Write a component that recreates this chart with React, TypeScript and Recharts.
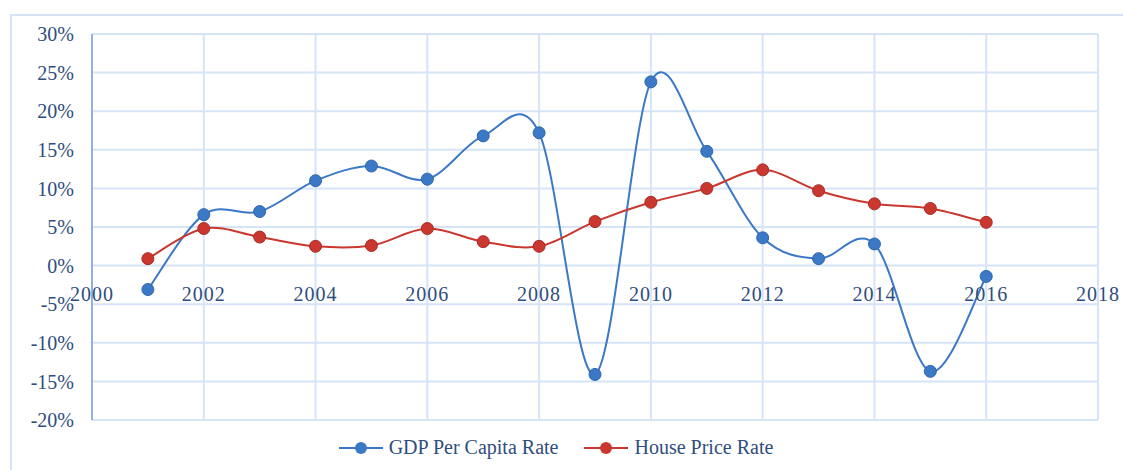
import { LineChart, Line, XAxis, YAxis, CartesianGrid, Legend } from 'recharts';

const years = [2001, 2002, 2003, 2004, 2005, 2006, 2007, 2008, 2009, 2010, 2011, 2012, 2013, 2014, 2015, 2016];
const gdpRate = [-3.1, 6.6, 7.0, 11.0, 12.9, 11.2, 16.8, 17.2, -14.1, 23.8, 14.8, 3.6, 0.9, 2.8, -13.7, -1.4];
const houseRate = [0.9, 4.8, 3.7, 2.5, 2.6, 4.8, 3.1, 2.5, 5.7, 8.2, 10.0, 12.4, 9.7, 8.0, 7.4, 5.6];
const xTicks = [2000, 2002, 2004, 2006, 2008, 2010, 2012, 2014, 2016, 2018];
const yTicks = [-20, -15, -10, -5, 0, 5, 10, 15, 20, 25, 30];

const data = years.map((year, i) => ({ year, gdp: gdpRate[i], house: houseRate[i] }));

const FONT = '"Liberation Serif", "Times New Roman", serif';
const TEXT = '#2f4d7e';
const GRID = '#d6e4f7';
const BLUE = '#3b78c6';
const RED = '#c9372f';

// Excel-style smoothing (Catmull-Rom as cubic beziers)
function smoothCurve(context: any) {
  let pts: [number, number][] = [];
  return {
    areaStart() {},
    areaEnd() {},
    lineStart() {
      pts = [];
    },
    point(x: number, y: number) {
      pts.push([+x, +y]);
    },
    lineEnd() {
      if (!pts.length) return;
      context.moveTo(pts[0][0], pts[0][1]);
      for (let i = 0; i < pts.length - 1; i++) {
        const p0 = pts[i - 1] || pts[i];
        const p1 = pts[i];
        const p2 = pts[i + 1];
        const p3 = pts[i + 2] || p2;
        context.bezierCurveTo(
          p1[0] + (p2[0] - p0[0]) / 6,
          p1[1] + (p2[1] - p0[1]) / 6,
          p2[0] - (p3[0] - p1[0]) / 6,
          p2[1] - (p3[1] - p1[1]) / 6,
          p2[0],
          p2[1]
        );
      }
    },
  };
}

// x labels sit just under the 0% line, not at the bottom of the plot
const XTick = (props: any) => {
  const { x, y, payload } = props;
  return (
    <text x={x} y={y - 126} textAnchor="middle" dominantBaseline="central"
      fill={TEXT} fontFamily={FONT} fontSize={20} letterSpacing={1}>
      {payload.value}
    </text>
  );
};

const LegendContent = () => {
  const items = [
    { label: 'GDP Per Capita Rate', color: BLUE },
    { label: 'House Price Rate', color: RED },
  ];
  return (
    <div style={{ display: 'flex', justifyContent: 'center', gap: 26, paddingTop: 15, paddingLeft: 14, fontFamily: FONT, fontSize: 20, color: TEXT }}>
      {items.map((it) => (
        <div key={it.label} style={{ display: 'flex', alignItems: 'center' }}>
          <svg width={44} height={14} style={{ marginRight: 6 }}>
            <line x1={0} y1={7} x2={44} y2={7} stroke={it.color} strokeWidth={2} />
            <circle cx={22} cy={7} r={6} fill={it.color} />
          </svg>
          <span>{it.label}</span>
        </div>
      ))}
    </div>
  );
};

export default function App() {
  return (
    <div style={{ position: 'absolute', left: 0, top: 0, width: 1123, height: 470, background: '#fff', overflow: 'hidden' }}>
      <div style={{ position: 'absolute', left: 10, top: 14, width: 1113, height: 456, borderLeft: `2px solid ${GRID}`, borderTop: `2px solid ${GRID}` }} />
      <div style={{ position: 'absolute', left: 0, top: 0 }}>
        <LineChart width={1123} height={470} data={data} margin={{ top: 34, right: 25, left: 0, bottom: 10 }}>
          <CartesianGrid stroke={GRID} strokeWidth={2} />
          <XAxis
            dataKey="year"
            type="number"
            domain={[2000, 2018]}
            ticks={xTicks}
            axisLine={false}
            tickLine={false}
            tickSize={0}
            tickMargin={0}
            height={1}
            tick={<XTick />}
            interval={0}
          />
          <YAxis
            domain={[-20, 30]}
            ticks={yTicks}
            width={92}
            tickFormatter={(v: number) => `${v}%`}
            axisLine={{ stroke: '#8fb2e3', strokeWidth: 2 }}
            tickLine={false}
            tickSize={0}
            tickMargin={18}
            tick={{ fill: TEXT, fontFamily: FONT, fontSize: 20 }}
            interval={0}
          />
          <Legend verticalAlign="bottom" height={39} content={<LegendContent />} />
          <Line
            dataKey="gdp"
            type={smoothCurve as any}
            stroke={BLUE}
            strokeWidth={2}
            dot={{ r: 6, fill: BLUE, stroke: '#2f66ad', strokeWidth: 1 }}
            isAnimationActive={false}
          />
          <Line
            dataKey="house"
            type={smoothCurve as any}
            stroke={RED}
            strokeWidth={2}
            dot={{ r: 6, fill: RED, stroke: '#a92b25', strokeWidth: 1 }}
            isAnimationActive={false}
          />
        </LineChart>
      </div>
    </div>
  );
}
